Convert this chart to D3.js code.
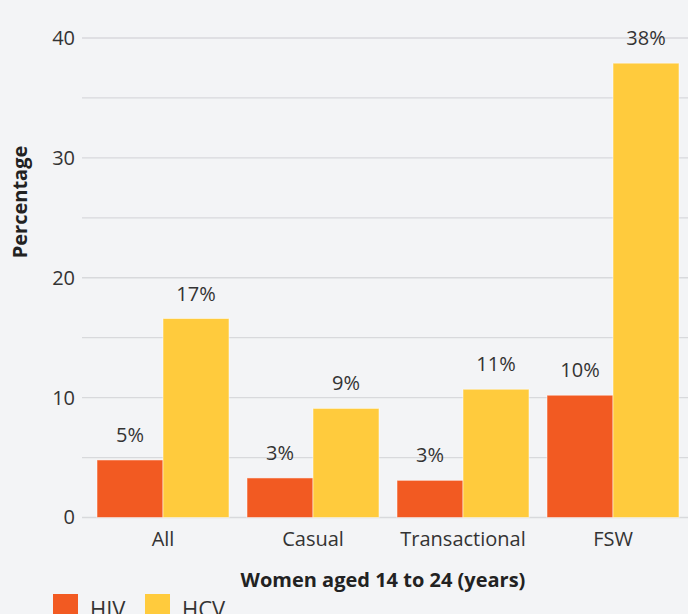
<!DOCTYPE html>
<html>
<head>
<meta charset="utf-8">
<script src="https://cdn.jsdelivr.net/npm/d3@7"></script>
<style>
  html, body { margin: 0; padding: 0; background: #f3f4f6; }
  svg { display: block; font-family: "Open Sans", sans-serif; }
</style>
</head>
<body>
<div id="chart"></div>
<script>
// data
const categories = ['All', 'Casual', 'Transactional', 'FSW'];
const seriesNames = ['HIV', 'HCV'];
const hivValues = [4.8, 3.3, 3.1, 10.2];
const hcvValues = [16.6, 9.1, 10.7, 37.9];
const hivLabels = ['5%', '3%', '3%', '10%'];
const hcvLabels = ['17%', '9%', '11%', '38%'];
const yTicks = [0, 10, 20, 30, 40];
const gridTicks = [0, 5, 10, 15, 20, 25, 30, 35, 40];

const WIDTH = 688, HEIGHT = 614;
const COLORS = {HIV: '#f25a22', HCV: '#ffcb3d'};
const FS = 20;

const rows = categories.map((c, i) => ({
  cat: c,
  vals: [
    {key: 'HIV', v: hivValues[i], label: hivLabels[i]},
    {key: 'HCV', v: hcvValues[i], label: hcvLabels[i]}
  ]
}));

const svg = d3.select('#chart').append('svg')
  .attr('width', WIDTH)
  .attr('height', HEIGHT);

const y = d3.scaleLinear().domain([0, 40]).range([517.5, 38]);

const x = d3.scaleBand()
  .domain(categories)
  .range([88, 688])
  .paddingInner(0.12)
  .paddingOuter(0.06);

const x1 = d3.scaleBand()
  .domain(seriesNames)
  .range([0, x.bandwidth()]);

// gridlines
svg.append('g').selectAll('line')
  .data(gridTicks)
  .join('line')
    .attr('x1', 82)
    .attr('x2', WIDTH)
    .attr('y1', d => y(d))
    .attr('y2', d => y(d))
    .attr('stroke', '#d8d9dc')
    .attr('stroke-width', 1.3);

// y axis labels
const yAxis = svg.append('g')
  .attr('transform', 'translate(82,0)')
  .call(d3.axisLeft(y).tickValues(yTicks).tickSize(0).tickPadding(7));
yAxis.select('.domain').remove();
yAxis.selectAll('text')
  .attr('font-size', FS)
  .attr('fill', '#333')
  .attr('font-family', '"Open Sans", sans-serif');

// x axis labels
const xAxis = svg.append('g')
  .attr('transform', 'translate(0,518)')
  .call(d3.axisBottom(x).tickSize(0).tickPadding(14));
xAxis.select('.domain').remove();
xAxis.selectAll('text')
  .attr('font-size', FS)
  .attr('fill', '#333')
  .attr('font-family', '"Open Sans", sans-serif');

// bars
const groups = svg.append('g').selectAll('g')
  .data(rows)
  .join('g')
    .attr('transform', d => `translate(${x(d.cat)},0)`);

groups.selectAll('rect')
  .data(d => d.vals)
  .join('rect')
    .attr('x', d => x1(d.key))
    .attr('width', x1.bandwidth())
    .attr('y', d => y(d.v))
    .attr('height', d => y(0) - y(d.v))
    .attr('fill', d => COLORS[d.key])
    .attr('stroke', '#fff')
    .attr('stroke-opacity', 0.5)
    .attr('stroke-width', 1);

groups.selectAll('text')
  .data(d => d.vals)
  .join('text')
    .attr('x', d => x1(d.key) + x1.bandwidth() / 2)
    .attr('y', d => y(d.v) - 18)
    .attr('text-anchor', 'middle')
    .attr('font-size', FS)
    .attr('fill', '#333')
    .text(d => d.label);

// axis titles
svg.append('text')
  .attr('x', 383)
  .attr('y', 587)
  .attr('text-anchor', 'middle')
  .attr('font-size', FS)
  .attr('font-weight', 'bold')
  .attr('fill', '#222')
  .text('Women aged 14 to 24 (years)');

svg.append('text')
  .attr('transform', 'translate(27,202) rotate(-90)')
  .attr('text-anchor', 'middle')
  .attr('font-size', FS)
  .attr('font-weight', 'bold')
  .attr('fill', '#222')
  .text('Percentage');

// legend
const legend = svg.append('g').selectAll('g')
  .data(seriesNames)
  .join('g')
    .attr('transform', (d, i) => `translate(${53 + i * 92},594)`);
legend.append('rect')
  .attr('width', 25)
  .attr('height', 25)
  .attr('fill', d => COLORS[d]);
legend.append('text')
  .attr('x', 37)
  .attr('y', 23)
  .attr('font-size', 22)
  .attr('fill', '#333')
  .text(d => d);
</script>
</body>
</html>
